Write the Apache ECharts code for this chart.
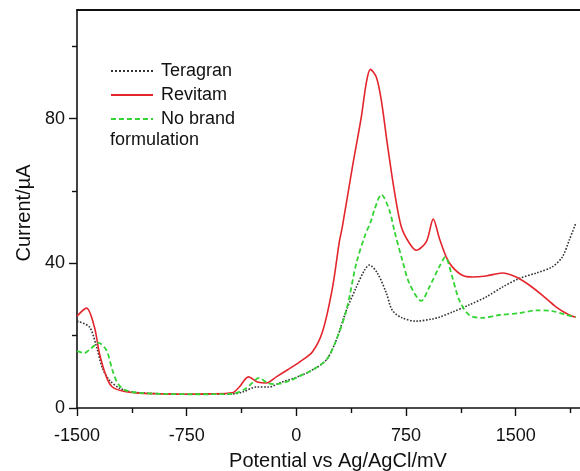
<!DOCTYPE html>
<html>
<head>
<meta charset="utf-8">
<script src="https://cdn.jsdelivr.net/npm/echarts@6.0.0/dist/echarts.min.js"></script>
<style>
  html, body { margin: 0; padding: 0; background: #fff; }
  #root { width: 580px; height: 471px; }
</style>
</head>
<body>
<div id="root"></div>
<script>
// potential (mV) / current (uA)
const teragranPotential = [-1500, -1415, -1367, -1326, -1278, -1210, -1121, -900, -700, -437, -369, -273, -185, -116, 21, 109, 205, 273, 342, 410, 465, 499, 554, 615, 656, 724, 820, 929, 977, 1066, 1182, 1298, 1408, 1524, 1640, 1749, 1818, 1866, 1910];
const teragranCurrent = [24, 22.4, 17, 11, 7.7, 5.5, 4.4, 3.9, 3.8, 3.9, 4.4, 5.8, 5.8, 6.9, 8.8, 10.5, 13.3, 18.8, 27, 33.4, 38, 39.5, 37.3, 31.8, 27, 24.9, 24, 24.6, 25.1, 26.5, 28.5, 30.7, 33.4, 35.8, 37.3, 39, 41.7, 46.4, 51];

const revitamPotential = [-1500, -1435, -1381, -1346, -1299, -1258, -1189, -1073, -900, -752, -600, -437, -390, -328, -267, -205, -137, -62, 21, 109, 178, 246, 294, 314, 383, 444, 478, 506, 547, 581, 622, 670, 718, 772, 820, 889, 936, 977, 1025, 1066, 1134, 1203, 1298, 1408, 1503, 1592, 1681, 1777, 1866, 1910];
const revitamCurrent = [25.4, 27.6, 22.4, 15, 8.6, 5.8, 4.7, 4.1, 3.9, 3.8, 3.9, 4.2, 5.8, 8.6, 7.2, 6.9, 8.6, 10.5, 12.7, 15.5, 21, 33, 46, 50, 66.6, 80.4, 89.8, 93.6, 91.4, 85, 73, 60, 50, 45.6, 43.6, 46, 52.2, 47, 41.7, 39, 36.7, 36.2, 36.5, 37.3, 36.2, 34, 31.2, 27.9, 25.7, 25.1];

const noBrandPotential = [-1500, -1449, -1401, -1353, -1299, -1258, -1223, -1175, -1073, -900, -700, -437, -342, -253, -198, -137, -48, 21, 109, 205, 273, 342, 410, 465, 513, 533, 581, 636, 670, 724, 772, 854, 909, 977, 1018, 1066, 1114, 1182, 1271, 1387, 1524, 1640, 1749, 1845, 1910];
const noBrandCurrent = [15.7, 15.2, 16.6, 18, 16, 10.5, 6.9, 5, 4.2, 3.9, 3.8, 3.9, 5.5, 8.3, 6.9, 6.6, 7.5, 8.8, 10.5, 13.3, 18.8, 27, 40, 47.2, 52, 54.7, 59, 54.7, 49, 40.9, 34.5, 29.6, 33.4, 39, 41.7, 36.2, 29.8, 25.7, 24.9, 25.7, 26.2, 27, 26.8, 25.7, 25.1];

const seriesNames = ['Teragran', 'Revitam', 'No brand formulation'];
const xMajorTicks = [-1500, -750, 0, 750, 1500];
const xMinorTicks = [-1125, -375, 375, 1125, 1875];
const yMajorTicks = [0, 40, 80];
const yMinorTicks = [20, 60, 100];

(function () {
  const FONT = '"Liberation Sans", Arial, Helvetica, sans-serif';
  const zip = (xs, ys) => xs.map((x, i) => [x, ys[i]]);

  const axisBase = {
    type: 'value',
    splitLine: { show: false },
    axisLine: { show: false, onZero: false },
    axisTick: { show: false },
    axisLabel: { show: false }
  };

  const getOption = () => {
    const xMin = -1500, xMax = 1960;
    const yMin = 0, yMax = 110;

    const xAxis = [
      {
        ...axisBase,
        min: xMin, max: xMax,
        position: 'bottom',
        name: 'Potential vs Ag/AgCl/mV',
        nameLocation: 'middle',
        nameGap: 43,
        nameTextStyle: { fontFamily: FONT, fontSize: 20, color: '#111', padding: [0, 0, 0, 16] },
        axisLine: { show: true, onZero: false, lineStyle: { color: '#111', width: 1.6 } },
        axisTick: { show: true, customValues: xMajorTicks, length: 8, lineStyle: { color: '#111', width: 1.4 } },
        axisLabel: {
          show: true, customValues: xMajorTicks, margin: 19,
          formatter: v => String(v),
          fontFamily: FONT, fontSize: 18, color: '#111'
        }
      },
      {
        // minor ticks
        ...axisBase,
        min: xMin, max: xMax,
        position: 'bottom',
        axisTick: { show: true, customValues: xMinorTicks, length: 5, lineStyle: { color: '#111', width: 1.4 } }
      },
      {
        // top frame line
        ...axisBase,
        min: xMin, max: xMax,
        position: 'top',
        axisLine: { show: true, onZero: false, lineStyle: { color: '#111', width: 1.8 } }
      }
    ];

    const yAxis = [
      {
        ...axisBase,
        min: yMin, max: yMax,
        position: 'left',
        name: 'Current/\u00b5A',
        nameLocation: 'middle',
        nameGap: 40,
        nameTextStyle: { fontFamily: FONT, fontSize: 20, color: '#111', padding: [0, 8, 0, 0] },
        axisLine: { show: true, onZero: false, lineStyle: { color: '#111', width: 1.6 } },
        axisTick: { show: true, customValues: yMajorTicks, length: 8, lineStyle: { color: '#111', width: 1.4 } },
        axisLabel: {
          show: true, customValues: yMajorTicks, margin: 12,
          padding: [3, 0, 0, 0],
          fontFamily: FONT, fontSize: 18, color: '#111'
        }
      },
      {
        ...axisBase,
        min: yMin, max: yMax,
        position: 'left',
        axisTick: { show: true, customValues: yMinorTicks, length: 5, lineStyle: { color: '#111', width: 1.4 } }
      }
    ];

    const lineSeries = (name, data, color, type, width) => ({
      name,
      type: 'line',
      data,
      xAxisIndex: 0,
      yAxisIndex: 0,
      smooth: 0.3,
      showSymbol: false,
      symbol: 'none',
      silent: true,
      clip: true,
      lineStyle: { color, type, width },
      itemStyle: { color }
    });

    return {
      animation: false,
      backgroundColor: '#fff',
      grid: { left: 77, width: 506, top: 10, bottom: 63, containLabel: false, outerBoundsMode: 'none' },
      legend: {
        orient: 'vertical',
        left: 105,
        top: 57,
        itemWidth: 42,
        itemHeight: 14,
        itemGap: 6,
        data: seriesNames,
        itemStyle: { opacity: 0 },
        formatter: n => (n === 'No brand formulation' ? 'No brand' : n),
        textStyle: { fontFamily: FONT, fontSize: 18, color: '#111', padding: [0, 0, 0, 3] }
      },
      graphic: [
        {
          type: 'text',
          left: 110,
          top: 131,
          style: { text: 'formulation', fontFamily: FONT, fontSize: 18, fill: '#111' }
        }
      ],
      xAxis,
      yAxis,
      series: [
        lineSeries(seriesNames[0], zip(teragranPotential, teragranCurrent), '#333333', 'dotted', 1.6),
        lineSeries(seriesNames[1], zip(revitamPotential, revitamCurrent), '#e3262d', 'solid', 1.6),
        lineSeries(seriesNames[2], zip(noBrandPotential, noBrandCurrent), '#33d433', [5, 3], 1.8)
      ]
    };
  };

  const chart = echarts.init(document.getElementById('root'), null, { renderer: 'canvas' });
  chart.setOption(getOption());
})();
</script>
</body>
</html>
